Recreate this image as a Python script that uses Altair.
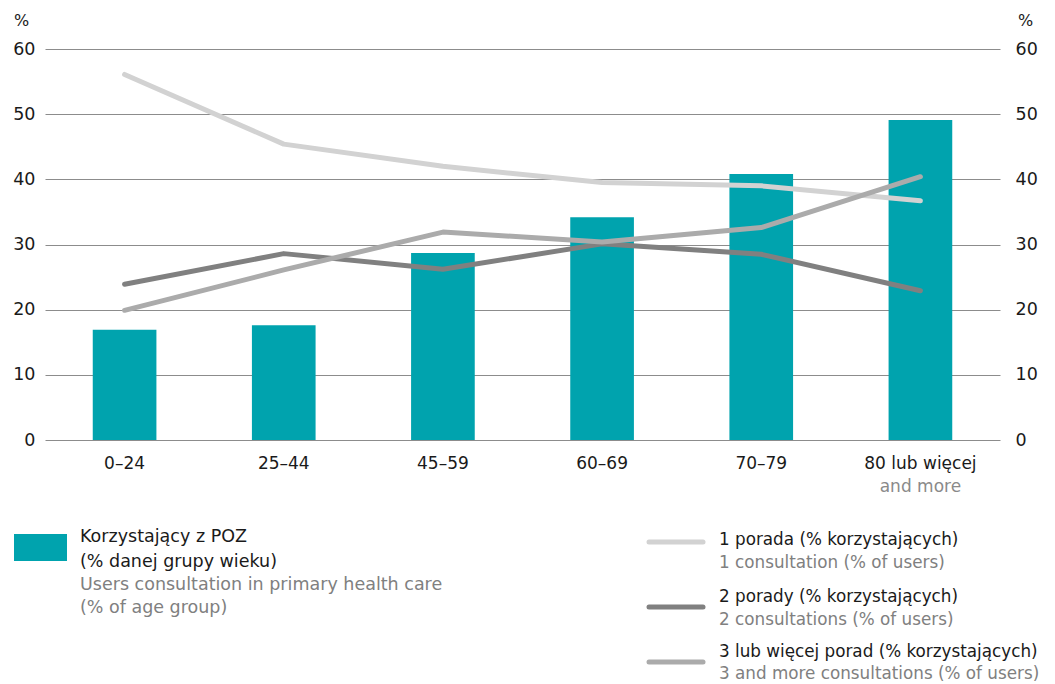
import altair as alt
import pandas as pd

FONT = "DejaVu Sans"

ages = ["0–24", "25–44", "45–59", "60–69", "70–79", "80 lub więcej"]
age_second_line = ["", "", "", "", "", "and more"]
users_pct = [16.9, 17.6, 28.7, 34.2, 40.8, 49.1]
one_consult = [56.1, 45.4, 42.0, 39.5, 39.0, 36.7]
two_consult = [23.9, 28.6, 26.2, 30.1, 28.5, 22.9]
three_consult = [19.9, 26.1, 31.9, 30.4, 32.6, 40.4]
series_names = ["1 porada", "2 porady", "3 lub więcej porad"]
series_colors = ["#d2d2d2", "#808080", "#ababab"]
bar_color = "#00a3ae"

legend_bar_pl = ["Korzystający z POZ", "(% danej grupy wieku)"]
legend_bar_en = ["Users consultation in primary health care", "(% of age group)"]
legend_line_pl = ["1 porada (% korzystających)", "2 porady (% korzystających)",
                  "3 lub więcej porad (% korzystających)"]
legend_line_en = ["1 consultation (% of users)", "2 consultations (% of users)",
                  "3 and more consultations (% of users)"]

bars = pd.DataFrame({"age": ages, "value": users_pct, "second": age_second_line})
rows = []
for name, vals in zip(series_names, [one_consult, two_consult, three_consult]):
    for i, (a, v) in enumerate(zip(ages, vals)):
        rows.append({"age": a, "value": v, "series": name, "order": i})
lines = pd.DataFrame(rows)

xscale = alt.Scale(domain=ages, paddingInner=0.6, paddingOuter=0.3)
yvals = [0, 10, 20, 30, 40, 50, 60]
TXT = 17.5
TXT_R = 16.8
XT = 17
AX = 17.5

x_enc = alt.X("age:N", sort=ages, scale=xscale,
              axis=alt.Axis(title=None, labelAngle=0, domain=False, ticks=False,
                            labelPadding=15, labelFont=FONT, labelFontSize=XT,
                            labelColor="#1a1a1a"))

bar_layer = alt.Chart(bars).mark_bar(color=bar_color).encode(
    x=x_enc,
    y=alt.Y("value:Q", scale=alt.Scale(domain=[0, 60], nice=False),
            axis=alt.Axis(values=yvals, grid=True, gridColor="#8c8c8c", gridWidth=1,
                          domain=False, ticks=False, labelPadding=10, labelFont=FONT,
                          labelFontSize=AX, labelColor="#1a1a1a",
                          title="%", titleAngle=0, titleX=-24, titleY=-29,
                          titleAlign="center", titleBaseline="middle",
                          titleFont=FONT, titleFontSize=16, titleFontWeight="normal",
                          titleColor="#1a1a1a")),
)

line_layer = alt.Chart(lines).mark_line(strokeWidth=5, strokeCap="round",
                                        strokeJoin="round").encode(
    x=alt.X("age:N", sort=ages, scale=xscale),
    y=alt.Y("value:Q", scale=alt.Scale(domain=[0, 60], nice=False),
            axis=alt.Axis(orient="right", values=yvals, grid=False, domain=False,
                          ticks=False, labelPadding=15, labelFont=FONT,
                          labelFontSize=AX, labelColor="#1a1a1a",
                          title="%", titleAngle=0, titleX=25, titleY=-29,
                          titleAlign="center", titleBaseline="middle",
                          titleFont=FONT, titleFontSize=16, titleFontWeight="normal",
                          titleColor="#1a1a1a")),
    color=alt.Color("series:N", scale=alt.Scale(domain=series_names, range=series_colors),
                    legend=None),
    order="order:Q",
)

second_line = alt.Chart(bars).mark_text(font=FONT, fontSize=XT, color="#8a8a8a",
                                        baseline="middle").encode(
    x=alt.X("age:N", sort=ages, scale=xscale),
    y=alt.value(438),
    text="second:N",
)

legend_layers = []
legend_layers.append(
    alt.Chart(pd.DataFrame({"k": [0]})).mark_rect(color=bar_color).encode(
        x=alt.value(-31), x2=alt.value(22), y=alt.value(485), y2=alt.value(512))
)
bar_texts = legend_bar_pl + legend_bar_en
bar_cols = ["#1a1a1a"] * len(legend_bar_pl) + ["#808080"] * len(legend_bar_en)
bar_ys = [488, 513, 536, 559]
for t, c, yy in zip(bar_texts, bar_cols, bar_ys):
    legend_layers.append(
        alt.Chart(pd.DataFrame({"t": [t]})).mark_text(
            font=FONT, fontSize=TXT, color=c, align="left", baseline="middle").encode(
            x=alt.value(35), y=alt.value(yy), text="t:N")
    )
sw_ys = [493, 558, 613]
pl_ys = [491, 548, 603]
en_ys = [514, 571, 625]
for i in range(3):
    legend_layers.append(
        alt.Chart(pd.DataFrame({"k": [0]})).mark_rule(
            color=series_colors[i], strokeWidth=5, strokeCap="round").encode(
            x=alt.value(604), x2=alt.value(658), y=alt.value(sw_ys[i]))
    )
    legend_layers.append(
        alt.Chart(pd.DataFrame({"t": [legend_line_pl[i]]})).mark_text(
            font=FONT, fontSize=TXT_R, color="#1a1a1a", align="left",
            baseline="middle").encode(x=alt.value(674), y=alt.value(pl_ys[i]), text="t:N")
    )
    legend_layers.append(
        alt.Chart(pd.DataFrame({"t": [legend_line_en[i]]})).mark_text(
            font=FONT, fontSize=TXT_R, color="#808080", align="left",
            baseline="middle").encode(x=alt.value(674), y=alt.value(en_ys[i]), text="t:N")
    )

chart = alt.layer(bar_layer, line_layer, second_line, *legend_layers).resolve_scale(
    y="independent"
).properties(
    width=955, height=391,
    background="white",
    autosize=alt.AutoSizeParams(type="none"),
    padding={"left": 37, "top": 41, "right": 47, "bottom": 244},
).configure_view(stroke=None)

chart.save("out.html", embed_options={"renderer": "svg", "actions": False})
